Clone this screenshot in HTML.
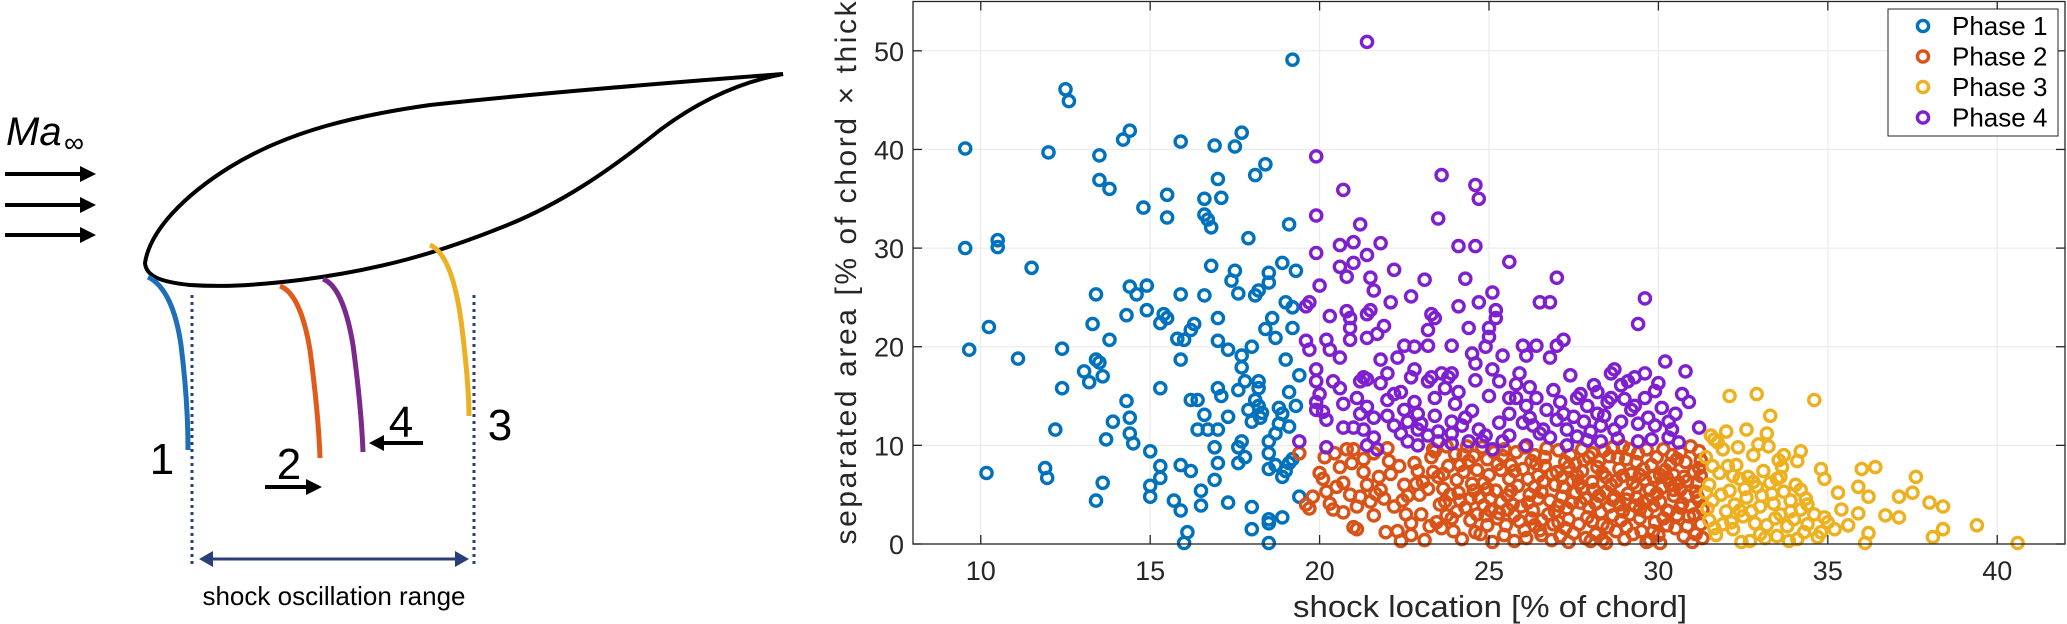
<!DOCTYPE html>
<html><head><meta charset="utf-8"><style>
html,body{margin:0;padding:0;background:#fff;}
svg{display:block;}
text{font-family:"Liberation Sans",sans-serif;}
</style></head><body>
<svg id="root" width="2067" height="624" viewBox="0 0 2067 624" xmlns="http://www.w3.org/2000/svg">
<g id="diagram">
  <path d="M145,263 C150,230 185,195 230,167 C290,130 360,115 430,105 C550,92 680,82 783,74 C740,82 700,100 660,130 C610,170 560,205 500,228 C440,252 380,270 300,280 C250,286 220,287 190,285 C160,282 146,276 145,263 Z" fill="none" stroke="#000" stroke-width="4"/>
  <text x="6" y="145" font-size="40" font-style="italic">Ma</text>
  <text x="64" y="152" font-size="28">∞</text>
  <g stroke="#000" stroke-width="4" fill="#000">
    <line x1="5" y1="174" x2="82" y2="174"/><polygon points="80,166 96,174 80,182" stroke="none"/>
    <line x1="5" y1="205" x2="82" y2="205"/><polygon points="80,197 96,205 80,213" stroke="none"/>
    <line x1="5" y1="235" x2="82" y2="235"/><polygon points="80,227 96,235 80,243" stroke="none"/>
  </g>
  <path d="M148,277 C165,285 176,310 181,345 C186,385 188,420 188,450" fill="none" stroke="#1f6fb8" stroke-width="5"/>
  <path d="M280,286 C296,292 305,320 310,350 C316,395 319,430 320,458" fill="none" stroke="#e05a1a" stroke-width="5"/>
  <path d="M323,279 C339,285 348,315 353,345 C359,390 362,425 363,452" fill="none" stroke="#7b2a8c" stroke-width="5"/>
  <path d="M430,245 C447,252 456,285 461,320 C466,360 469,395 469,416" fill="none" stroke="#ebb023" stroke-width="5"/>
  <line x1="192" y1="295" x2="192" y2="566" stroke="#2a3f7a" stroke-width="3" stroke-dasharray="3,4"/>
  <line x1="474" y1="295" x2="474" y2="566" stroke="#2a3f7a" stroke-width="3" stroke-dasharray="3,4"/>
  <line x1="206" y1="559" x2="462" y2="559" stroke="#2a3f7a" stroke-width="3"/>
  <polygon points="199,559 213,551 213,567" fill="#2a3f7a"/>
  <polygon points="469,559 455,551 455,567" fill="#2a3f7a"/>
  <text x="334" y="605" font-size="26" text-anchor="middle">shock oscillation range</text>
  <text x="162" y="474" font-size="44" text-anchor="middle">1</text>
  <text x="289" y="479" font-size="44" text-anchor="middle">2</text>
  <text x="401" y="437" font-size="44" text-anchor="middle">4</text>
  <text x="500" y="440" font-size="44" text-anchor="middle">3</text>
  <line x1="265" y1="487" x2="310" y2="487" stroke="#000" stroke-width="4"/>
  <polygon points="306,479 322,487 306,495" fill="#000"/>
  <line x1="380" y1="443" x2="423" y2="443" stroke="#000" stroke-width="4"/>
  <polygon points="384,435 369,443 384,451" fill="#000"/>
</g>
<g id="chart"></g>
</svg>
<script>
const xTicks=[10,15,20,25,30,35,40];
const yTicks=[0,10,20,30,40,50];
const seriesNames=["Phase 1","Phase 2","Phase 3","Phase 4"];
const phase1=[[9.54,40.1],[9.54,30.0],[9.66,19.7],[10.24,22.0],[10.17,7.2],[10.5,30.8],[10.5,30.1],[11.1,18.8],[11.5,28.0],[11.9,7.7],[11.96,6.7],[12.0,39.7],[12.2,11.6],[12.4,19.8],[12.5,46.1],[12.6,44.9],[13.3,22.3],[13.05,17.5],[13.2,16.4],[12.4,15.8],[13.4,25.3],[13.4,18.7],[13.5,18.4],[13.5,39.4],[13.5,36.9],[13.8,36.0],[13.6,17.0],[13.6,6.2],[13.4,4.4],[13.8,20.7],[13.7,10.6],[13.9,12.4],[14.3,14.5],[14.3,23.2],[14.2,41.0],[14.4,41.9],[14.4,26.1],[14.6,25.3],[14.9,26.2],[14.4,12.8],[14.4,11.2],[14.5,10.2],[14.8,34.1],[14.9,23.7],[15.0,9.4],[15.0,5.9],[15.0,4.8],[15.3,15.8],[15.3,22.4],[15.3,7.9],[15.3,6.7],[15.4,23.3],[15.5,22.9],[15.5,35.4],[15.5,33.1],[15.7,4.4],[15.9,3.4],[15.9,18.7],[15.8,20.8],[15.9,25.3],[15.9,40.8],[16.0,20.7],[16.1,1.2],[16.0,0.1],[16.2,21.7],[16.3,22.3],[16.2,14.6],[16.4,14.6],[15.9,8.0],[16.2,7.4],[16.5,3.9],[16.5,5.4],[16.6,13.1],[16.4,11.6],[16.7,11.6],[17.0,11.6],[16.6,25.2],[16.6,35.0],[16.6,33.4],[16.7,32.9],[16.8,32.1],[16.8,28.2],[16.9,9.8],[16.9,6.5],[16.9,40.4],[17.0,22.9],[17.0,20.6],[17.0,15.8],[17.1,15.0],[17.0,8.2],[17.0,37.0],[17.1,35.1],[17.3,4.2],[17.3,19.7],[17.3,12.9],[17.4,26.7],[17.5,27.7],[17.5,40.3],[17.7,41.7],[17.6,8.2],[17.6,9.8],[17.7,10.4],[17.6,25.4],[17.7,19.1],[17.7,17.9],[17.8,16.5],[17.8,8.8],[17.9,13.6],[18.0,12.4],[17.9,31.0],[18.0,20.0],[18.0,3.75],[18.0,1.5],[18.1,37.4],[18.1,25.2],[18.2,25.7],[18.2,16.5],[18.2,15.8],[18.2,14.0],[18.25,12.8],[18.4,21.8],[18.6,22.9],[18.4,38.5],[18.5,26.5],[18.5,27.5],[18.5,10.4],[18.5,9.2],[18.5,7.6],[18.5,2.5],[18.5,2.1],[18.5,0.1],[18.7,20.9],[18.7,11.2],[18.8,12.2],[18.9,13.2],[18.9,28.5],[18.9,2.7],[19.0,24.5],[18.9,6.8],[19.0,18.7],[19.1,32.4],[19.1,15.4],[19.1,8.2],[19.2,8.6],[19.2,49.1],[19.2,21.9],[19.3,27.7],[19.3,14.0],[19.4,4.8],[19.4,17.1],[19.0,7.4],[19.1,11.9],[18.8,13.8],[19.2,24.0],[18.3,13.3],[18.1,14.6],[17.6,15.6],[18.7,8.0]];
const phase2=[[19.4,9.2],[19.6,4.0],[19.7,3.6],[19.8,4.8],[20.0,7.2],[20.1,6.6],[20.2,5.3],[20.3,4.1],[20.4,3.5],[20.5,5.8],[20.6,7.8],[20.7,3.2],[20.8,9.6],[21.0,9.6],[20.9,5.0],[21.1,3.8],[21.0,1.7],[21.1,1.5],[21.3,7.3],[21.4,6.0],[21.5,4.3],[21.6,9.2],[21.3,8.6],[21.6,2.9],[21.8,5.5],[21.9,4.6],[22.0,9.7],[22.1,7.1],[22.2,3.8],[22.3,1.3],[22.4,0.3],[22.5,6.0],[22.6,4.9],[22.7,2.1],[22.8,8.2],[22.9,7.4],[22.7,0.9],[23.0,3.0],[23.1,0.4],[23.2,5.6],[23.3,8.8],[23.4,9.4],[23.5,6.8],[23.6,1.6],[23.7,4.3],[23.8,7.9],[23.9,2.6],[24.0,9.1],[24.1,5.2],[24.2,0.5],[24.3,3.7],[24.4,8.4],[24.5,6.1],[24.6,1.2],[24.7,4.7],[24.8,9.8],[24.9,2.9],[25.0,7.0],[25.1,0.2],[25.2,5.4],[25.3,3.1],[25.4,8.9],[25.5,1.9],[25.6,6.6],[25.7,4.0],[25.8,9.3],[25.9,2.3],[26.0,7.6],[26.1,0.6],[26.2,5.0],[26.3,3.4],[26.4,8.1],[26.5,1.4],[26.6,6.3],[26.7,9.7],[26.8,4.4],[26.9,2.0],[27.0,7.3],[27.1,0.8],[27.2,5.8],[27.3,3.6],[27.4,9.0],[27.5,1.1],[27.6,6.9],[27.7,4.2],[27.8,8.5],[27.9,2.7],[28.0,0.3],[28.1,5.5],[28.2,7.8],[28.3,3.2],[28.4,9.5],[28.5,1.7],[28.6,6.0],[28.7,4.8],[28.8,8.7],[28.9,2.4],[29.0,0.5],[29.1,5.1],[29.2,7.1],[29.3,3.9],[29.4,9.2],[29.5,1.3],[29.6,6.5],[29.7,4.5],[29.8,8.0],[29.9,2.2],[30.0,0.9],[30.1,5.7],[30.2,7.5],[30.3,3.3],[30.4,9.0],[30.5,1.6],[30.6,6.2],[30.7,4.1],[30.8,8.3],[30.9,2.8],[31.0,0.2],[31.1,5.3],[31.2,7.7],[31.3,3.5],[31.2,9.4],[31.1,1.0],[23.05,6.3],[23.45,2.2],[23.85,5.0],[24.25,7.3],[24.65,3.0],[25.05,4.6],[25.45,0.9],[25.85,5.9],[26.25,2.6],[26.65,7.9],[27.05,3.9],[27.45,6.4],[27.85,0.6],[28.25,4.9],[28.65,2.9],[29.05,8.6],[29.45,3.5],[29.85,6.8],[30.25,1.9],[30.65,5.5],[31.05,3.0],[28.05,9.2],[27.25,8.3],[26.45,6.9],[25.65,8.0],[24.85,6.2],[24.05,3.3],[23.55,4.0],[28.45,6.8],[28.85,4.0],[29.25,1.0],[29.65,9.6],[30.05,4.3],[30.45,7.0],[30.85,6.4],[31.25,2.0],[27.65,2.0],[27.15,4.8],[26.85,0.4],[26.35,9.0],[25.95,3.8],[25.35,7.5],[24.75,1.0],[24.35,9.9],[23.75,9.9],[28.15,1.0],[28.55,3.8],[28.95,6.9],[29.35,5.8],[29.75,0.4],[30.15,9.6],[30.55,2.9],[30.95,9.9],[31.15,6.2],[29.15,3.0],[28.35,7.2],[27.55,5.2],[26.75,3.0],[26.05,9.8],[25.25,2.6],[24.45,4.6],[23.65,7.1],[22.95,5.0],[22.35,7.9],[21.75,6.8],[21.2,4.8],[20.7,6.2],[20.15,8.8],[22.55,3.0],[21.95,1.2],[24.15,8.0],[24.55,5.4],[24.95,8.6],[25.55,4.9],[25.75,2.9],[26.15,4.2],[26.55,5.3],[26.95,6.0],[27.35,2.5],[27.75,7.4],[28.25,8.4],[28.75,1.3],[29.05,4.5],[29.55,7.6],[29.95,5.1],[30.35,8.1],[30.75,0.8],[31.2,4.4],[30.35,6.1],[29.45,2.6],[28.65,9.8],[27.95,3.7],[27.05,9.5],[26.35,1.9],[25.45,9.6],[24.65,7.5],[23.95,1.3],[23.35,7.3],[27.35,0.2],[28.45,0.1],[29.65,0.2],[30.65,9.3],[29.95,8.8],[28.95,9.9],[27.75,9.6],[26.65,8.8],[25.15,9.3],[30.85,4.9],[30.25,3.4],[29.35,4.7],[28.05,6.3],[27.55,8.1],
[23.25,1.8],[23.65,5.6],[24.05,6.5],[24.45,2.4],[24.85,3.9],[25.25,8.1],[25.65,5.4],[26.05,1.4],[26.45,4.6],[26.85,7.1],[27.25,1.6],[27.65,6.1],[28.05,2.3],[28.45,5.3],[28.85,7.6],[29.25,6.2],[29.65,3.2],[30.05,7.0],[30.45,4.9],[30.85,1.8],[31.25,8.5],[31.25,6.9],[30.95,3.8],[30.55,8.6],[30.15,2.6],[29.75,5.5],[29.35,8.3],[28.95,3.3],[28.55,8.9],[28.15,4.1],[27.75,5.6],[27.35,7.8],[26.95,3.3],[26.55,2.4],[26.15,6.6],[25.75,7.4],[25.35,4.3],[24.95,1.9],[24.55,8.9],[24.15,4.4],[23.75,2.9],[23.35,9.6],[22.85,6.1],[22.45,4.4],[22.05,8.4],[21.65,5.1],[20.95,8.2],[20.45,9.2],[31.3,0.6],[30.75,6.8],[30.05,0.1],[29.15,9.6],[28.35,0.4],[27.45,4.2],[26.55,0.9],[25.75,0.3],[24.95,5.6],[24.25,9.0],[29.85,3.9],[30.45,5.5],[31.05,7.3],[29.55,4.2],[28.75,6.4],[27.95,8.8],[27.05,2.2],[26.25,8.4],[25.05,3.4],[28.35,2.0],[29.05,1.7],[29.85,1.3],[30.65,3.7],[31.15,4.8],[30.25,6.7],[29.45,7.0],[28.65,4.5],[27.85,4.6],[27.15,6.7],[26.35,5.8],[25.55,3.5]];
const phase3=[[32.1,15.0],[32.9,15.2],[34.6,14.6],[33.3,13.0],[32.6,11.6],[32.0,11.4],[31.65,10.6],[33.2,11.2],[34.2,9.4],[33.7,9.0],[34.1,8.4],[36.0,7.6],[36.4,7.8],[37.6,6.8],[34.8,7.6],[34.9,6.6],[33.6,6.8],[35.3,5.2],[35.9,5.8],[36.2,4.8],[37.1,4.8],[37.5,5.2],[38.0,4.2],[38.4,3.8],[34.4,4.0],[35.4,3.5],[35.9,3.1],[36.7,2.9],[37.1,2.7],[38.4,1.5],[38.1,0.7],[39.4,1.9],[40.6,0.1],[35.6,1.9],[36.2,1.1],[36.1,0.1],[34.9,2.7],[35.2,1.5],[34.7,0.7],[31.4,8.8],[31.5,6.0],[31.5,2.4],[31.6,4.4],[31.7,0.9],[31.8,7.2],[31.9,9.6],[32.0,3.3],[32.1,5.4],[32.2,1.5],[32.3,8.0],[32.4,6.6],[32.5,2.8],[32.6,4.7],[32.7,0.3],[32.8,9.0],[32.9,5.8],[33.0,3.8],[33.1,7.4],[33.2,1.9],[33.3,6.2],[33.4,4.1],[33.5,0.8],[33.6,3.0],[33.7,5.3],[33.8,1.8],[33.9,4.4],[34.0,2.5],[34.1,0.5],[34.2,3.5],[34.3,1.2],[34.4,2.0],[31.45,3.6],[31.65,1.6],[31.85,5.0],[32.05,7.9],[32.25,4.0],[32.45,0.2],[32.65,6.8],[32.85,2.1],[33.05,4.9],[33.25,9.9],[33.45,2.6],[33.65,7.8],[33.85,0.3],[34.05,6.0],[34.35,4.6],[32.75,3.3],[33.15,0.6],[32.35,9.8],[31.75,10.3],[32.95,10.1],[33.55,8.5],[31.55,11.0],[32.55,5.6],[32.15,2.2],[33.35,5.1],[34.6,3.0],[34.8,1.2],[35.0,2.2],[31.4,5.2],[31.6,7.9],[31.9,2.0],[32.4,3.4],[32.8,6.3],[33.0,1.0],[33.5,6.6],[33.9,3.3],[34.2,5.5],[32.2,6.9]];
const phase4=[[21.4,50.9],[19.9,39.3],[19.9,33.3],[20.7,35.9],[19.9,29.5],[20.0,26.2],[19.6,24.1],[19.7,24.5],[19.6,20.6],[19.7,19.7],[19.9,17.7],[19.9,16.5],[20.0,15.2],[19.9,14.4],[19.9,13.6],[19.4,10.4],[20.2,20.7],[20.3,19.7],[20.6,18.9],[20.3,23.1],[20.1,13.4],[20.2,12.6],[20.2,9.8],[20.4,16.5],[20.6,15.8],[20.6,30.3],[21.0,30.6],[20.6,28.1],[20.8,27.1],[21.0,28.5],[20.8,23.6],[20.9,22.9],[20.9,21.9],[20.9,20.7],[20.7,14.2],[20.7,11.8],[21.0,11.8],[21.1,14.8],[21.2,32.4],[21.2,16.5],[21.3,16.9],[21.4,16.7],[21.3,11.6],[21.4,29.3],[21.4,23.3],[21.5,23.7],[21.4,20.9],[21.7,21.3],[21.5,27.0],[21.6,25.7],[21.4,13.9],[21.6,12.8],[21.4,10.0],[21.6,10.8],[21.8,30.5],[21.9,22.1],[21.8,18.7],[22.0,17.3],[21.8,16.3],[22.0,14.6],[22.1,24.5],[22.2,27.8],[22.3,18.9],[22.2,15.2],[22.4,15.4],[22.5,13.6],[22.6,12.4],[22.5,20.1],[22.4,11.2],[22.6,10.4],[22.7,25.1],[22.8,20.0],[22.7,16.9],[22.8,17.7],[22.8,14.4],[22.9,13.2],[22.9,11.6],[23.1,26.8],[23.2,21.7],[23.2,20.1],[23.2,16.5],[23.3,16.9],[23.3,23.3],[23.4,22.9],[23.4,14.8],[23.4,13.0],[23.5,11.4],[23.5,10.4],[23.6,37.4],[23.5,33.0],[23.6,17.3],[23.8,16.9],[23.9,17.3],[23.9,20.1],[23.9,12.4],[23.9,11.2],[24.1,24.1],[24.1,30.2],[24.1,15.4],[24.3,26.9],[24.3,12.8],[24.4,10.4],[24.4,21.9],[24.6,30.2],[24.6,36.4],[24.7,35.0],[24.5,19.3],[24.6,18.3],[24.7,24.5],[24.7,11.6],[24.8,10.4],[24.9,20.0],[25.0,21.0],[25.0,21.9],[25.1,25.5],[25.2,23.7],[25.2,22.9],[25.1,17.7],[25.3,16.5],[25.4,19.1],[25.6,14.8],[25.6,13.2],[25.6,28.6],[25.6,11.0],[25.4,10.4],[25.8,14.8],[25.9,17.3],[26.0,20.1],[26.1,19.1],[26.1,14.0],[26.2,12.8],[26.3,12.0],[26.5,24.5],[26.8,24.5],[26.4,20.1],[26.4,14.8],[26.7,13.6],[26.6,11.6],[26.8,10.8],[26.8,18.9],[27.0,20.1],[27.0,27.0],[27.2,20.7],[27.4,17.1],[27.2,13.2],[27.3,11.6],[27.6,14.8],[27.7,15.2],[27.8,12.4],[27.9,14.0],[28.1,16.1],[28.2,13.2],[28.3,12.0],[28.5,14.4],[28.6,14.8],[28.6,17.3],[28.7,17.7],[28.7,11.6],[28.9,12.4],[28.9,16.1],[29.1,16.5],[29.2,13.6],[29.3,14.0],[29.3,16.9],[29.4,22.3],[29.6,24.9],[29.6,17.3],[29.6,14.8],[29.7,12.8],[29.9,12.0],[30.1,13.8],[30.2,18.5],[30.3,12.4],[30.4,11.6],[30.5,13.2],[30.7,15.2],[30.8,17.5],[30.9,14.4],[31.2,11.8],[29.4,10.4],[28.3,10.4],[27.3,10.0],[26.1,10.0],[25.1,9.6],[23.9,10.2],[22.9,10.0],[21.7,9.6],[24.2,12.0],[24.9,11.0],[25.3,12.3],[26.5,11.2],[27.0,12.6],[27.6,10.9],[28.0,11.4],[28.8,10.7],[29.8,10.6],[30.6,10.3],[22.2,12.0],[23.0,12.2],[25.8,16.2],[26.9,15.6],[24.0,14.2],[30.0,16.3],[23.7,15.8],[24.5,13.5],[25.0,15.0],[26.2,15.9],[27.1,14.4],[27.9,10.5],[28.4,13.0],[29.0,14.7],[29.9,15.5],[30.3,10.8],[23.2,11.0],[22.0,13.0],[21.2,13.2],[24.6,16.6],[26.0,12.3],[27.5,12.9],[28.2,15.4],[29.4,12.2]];
const colors=["#0072bd","#d95319","#edb120","#7e1fd0"];

const NS="http://www.w3.org/2000/svg";
const chart=document.getElementById('chart');
const L=913,R=2065,T=1.5,B=544,XMIN=8,XMAX=42,YMIN=0,YMAX=55;
function sx(v){return L+(v-XMIN)/(XMAX-XMIN)*(R-L);}
function sy(v){return B-(v-YMIN)/(YMAX-YMIN)*(B-T);}
function mk(tag,attrs,parent){const e=document.createElementNS(NS,tag);for(const k in attrs)e.setAttribute(k,attrs[k]);(parent||chart).appendChild(e);return e;}

const grid=mk('g',{});


xTicks.forEach(v=>{const l=mk('line',{x1:sx(v),x2:sx(v),y1:T,y2:B,stroke:'#ebebeb','stroke-width':1.2},grid);

});
yTicks.forEach(v=>{const l=mk('line',{x1:L,x2:R,y1:sy(v),y2:sy(v),stroke:'#ebebeb','stroke-width':1.2},grid);

});

const pts=mk('g',{fill:'none','stroke-width':3.4});


function drawSeries(data,ci,name){
  const g=mk('g',{stroke:colors[ci]},pts);
  
  
  data.forEach(p=>{const c=mk('circle',{cx:sx(p[0]).toFixed(1),cy:sy(p[1]).toFixed(1),r:5.6},g);
  
  });
}
drawSeries(phase1,0,'phase-1-series');
drawSeries(phase2,1,'phase-2-series');
drawSeries(phase4,3,'phase-4-series');
drawSeries(phase3,2,'phase-3-series');

const ax=mk('g',{stroke:'#262626','stroke-width':1.3,fill:'none'});


mk('rect',{x:L,y:T,width:R-L,height:B-T},ax);
xTicks.forEach(v=>{mk('line',{x1:sx(v),x2:sx(v),y1:B,y2:B-9},ax);mk('line',{x1:sx(v),x2:sx(v),y1:T,y2:T+9},ax);
  const t=mk('text',{x:sx(v),y:580,'font-size':27,'text-anchor':'middle',fill:'#262626',stroke:'none'});
  t.textContent=v;
  
  });
yTicks.forEach(v=>{mk('line',{x1:L,x2:L+9,y1:sy(v),y2:sy(v)},ax);mk('line',{x1:R,x2:R-9,y1:sy(v),y2:sy(v)},ax);
  const t=mk('text',{x:904,y:sy(v)+10,'font-size':27,'text-anchor':'end',fill:'#262626',stroke:'none'});
  t.textContent=v;
  
  });

const xl=mk('text',{x:1490,y:617,'font-size':31,'text-anchor':'middle',fill:'#262626',textLength:394,lengthAdjust:'spacingAndGlyphs'});
xl.textContent='shock location [% of chord]';


const yl=mk('text',{x:0,y:0,'font-size':30,'text-anchor':'middle',fill:'#262626',textLength:565,lengthAdjust:'spacing',transform:'translate(856,262) rotate(-90)'});
yl.textContent='separated area [% of chord × thick.]';



const lg=mk('g',{});


mk('rect',{x:1888,y:9,width:170,height:127,fill:'#fff',stroke:'#262626','stroke-width':1},lg);
seriesNames.forEach((n,i)=>{const y=26+i*30.5;
  const c=mk('circle',{cx:1923,cy:y,r:5.6,fill:'none',stroke:colors[i],'stroke-width':3.4},lg);
  
  
  const t=mk('text',{x:1952,y:y+9,'font-size':26,fill:'#000'},lg);
  t.textContent=n;
  
  });
</script>
</body></html>
